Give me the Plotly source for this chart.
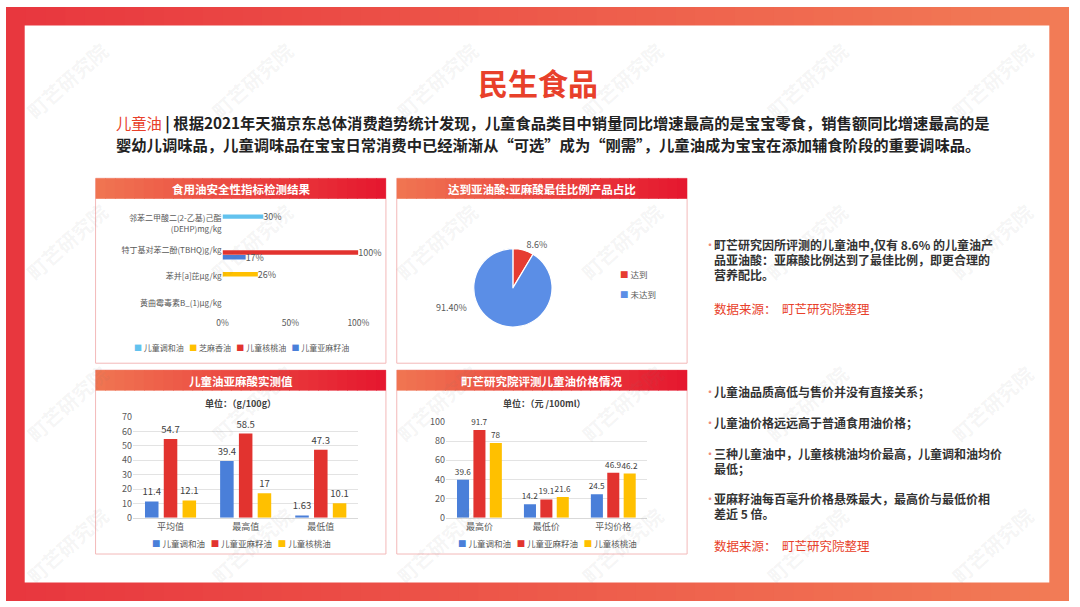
import plotly.graph_objects as go

W, H = 1080, 607
FONT = "Noto Sans CJK SC, Noto Sans, sans-serif"

# ---------------- data ----------------
safety_categories = ["邻苯二甲酸二(2-乙基)己酯<br>(DEHP)mg/kg", "特丁基对苯二酚(TBHQ)g/kg",
                     "苯并[a]芘μg/kg", "黄曲霉毒素B_(1)μg/kg"]
safety_series = ["儿童调和油", "芝麻香油", "儿童核桃油", "儿童亚麻籽油"]
safety_blend = [0.30, None, None, None]
safety_sesame = [None, None, 0.26, None]
safety_walnut = [None, 1.00, None, None]
safety_flax = [None, 0.17, None, None]

pie_labels = ["达到", "未达到"]
pie_values = [8.6, 91.4]
pie_text = ["8.6%", "91.40%"]

oil_series = ["儿童调和油", "儿童亚麻籽油", "儿童核桃油"]
ala_categories = ["平均值", "最高值", "最低值"]
ala_blend = [11.4, 39.4, 1.63]
ala_flax = [54.7, 58.5, 47.3]
ala_walnut = [12.1, 17, 10.1]

price_categories = ["最高价", "最低价", "平均价格"]
price_blend = [39.6, 14.2, 24.5]
price_flax = [91.7, 19.1, 46.9]
price_walnut = [78, 21.6, 46.2]

# ---------------- helpers ----------------
def fx(x):
    return x / W

def fy(y):
    return 1 - y / H

def mix(c1, c2, t):
    return "rgb(%d,%d,%d)" % tuple(round(a + (b - a) * t) for a, b in zip(c1, c2))

BLUE = "#4a7fd9"
RED = "#e2332f"
YELLOW = "#ffc000"
SKY = "#62c2ee"
GRAY = "#595959"
ORANGE_RED = "#e8402a"

fig = go.Figure()

# ---------------- chart 1: horizontal bars ----------------
slot1, w1 = 0.18, 0.17
for i, (name, vals, color) in enumerate(zip(
        safety_series, [safety_blend, safety_sesame, safety_walnut, safety_flax],
        [SKY, YELLOW, RED, BLUE])):
    fig.add_trace(go.Bar(
        name=name, y=safety_categories, x=vals, orientation="h",
        marker=dict(color=color, line=dict(width=0)),
        width=w1, offset=(i - 2) * slot1 + (slot1 - w1) / 2,
        texttemplate="%{x:.0%}", textposition="outside", cliponaxis=False,
        constraintext="none",
        textfont=dict(size=9, color=GRAY, family=FONT),
        xaxis="x", yaxis="y", showlegend=False, hoverinfo="skip"))

# ---------------- chart 2: pie ----------------
fig.add_trace(go.Pie(
    labels=pie_labels, values=pie_values, text=pie_text, texttemplate="%{text}",
    textposition=["outside", "none"], sort=False, direction="clockwise", rotation=0,
    marker=dict(colors=["#e63c31", "#5b8ee6"], line=dict(color="white", width=1.2)),
    outsidetextfont=dict(size=9, color=GRAY, family=FONT),
    domain=dict(x=[fx(475), fx(555)], y=[fy(327), fy(247)]),
    showlegend=False, hoverinfo="skip"))

# ---------------- chart 3 & 4: grouped bars ----------------
def grouped(cats, series_vals, xa, ya, slot, w, fsize):
    for i, (name, vals, color) in enumerate(zip(oil_series, series_vals, [BLUE, RED, YELLOW])):
        fig.add_trace(go.Bar(
            name=name, x=cats, y=vals,
            marker=dict(color=color, line=dict(width=0)),
            width=w, offset=(i - 1.5) * slot + (slot - w) / 2,
            texttemplate="%{y}", textposition="outside", cliponaxis=False,
            constraintext="none",
            textfont=dict(size=fsize, color="#404040", family=FONT),
            xaxis=xa, yaxis=ya, showlegend=False, hoverinfo="skip"))

grouped(ala_categories, [ala_blend, ala_flax, ala_walnut], "x2", "y2", 0.25, 0.18, 9.5)
grouped(price_categories, [price_blend, price_flax, price_walnut], "x3", "y3", 0.245, 0.18, 8.2)

# ---------------- shapes ----------------
shapes = []
c_left, c_right = (232, 54, 62), (242, 124, 86)
n = 54
for k in range(n):
    x0 = k * W / n
    shapes.append(dict(type="rect", xref="paper", yref="paper", layer="below",
                       x0=fx(x0), x1=fx(min(W, x0 + W / n + 1)), y0=0, y1=1,
                       fillcolor=mix(c_left, c_right, (k + 0.5) / n), line=dict(width=0)))
shapes.append(dict(type="rect", xref="paper", yref="paper", layer="below",
                   x0=fx(19), x1=fx(1060), y0=fy(588), y1=fy(19),
                   fillcolor="white", line=dict(width=0)))

panels = [(91, 175, 386, 364), (397, 175, 692, 364), (91, 371, 386, 559), (397, 371, 692, 559)]
h_left, h_right = (240, 118, 82), (229, 22, 46)
for (x0, y0, x1, y1) in panels:
    shapes.append(dict(type="rect", xref="paper", yref="paper", layer="below",
                       x0=fx(x0), x1=fx(x1), y0=fy(y1), y1=fy(y0),
                       fillcolor="white", line=dict(color="#f3b9b9", width=1)))
    m = 30
    step = (x1 - x0) / m
    for k in range(m):
        sx0 = x0 + k * step
        shapes.append(dict(type="rect", xref="paper", yref="paper", layer="below",
                           x0=fx(sx0), x1=fx(min(x1, sx0 + step + 0.8)), y0=fy(y0 + 21), y1=fy(y0),
                           fillcolor=mix(h_left, h_right, (k + 0.5) / m), line=dict(width=0)))

# ---------------- annotations ----------------
ann = []

def text(x, y, s, size=12, color="#333", xanchor="center", yanchor="middle", angle=0, bold=False):
    ann.append(dict(x=fx(x), y=fy(y), xref="paper", yref="paper", showarrow=False,
                    text=("<b>%s</b>" % s) if bold else s, textangle=angle,
                    font=dict(size=size, color=color, family=FONT),
                    xanchor=xanchor, yanchor=yanchor))

# watermarks
for wy in [75, 240, 405, 550]:
    for i in range(6):
        wx = 62 + i * 188
        text(wx, wy, "町芒研究院", size=20, color="rgba(120,120,120,0.08)", angle=-42, bold=True)

# title & intro
text(540, 77, "民生食品", size=30, color=ORANGE_RED, bold=True)
text(110, 118, "<span style='color:%s'>儿童油</span> <b>| 根据2021年天猫京东总体消费趋势统计发现，"
     "儿童食品类目中销量同比增速最高的是宝宝零食，销售额同比增速最高的是</b>" % ORANGE_RED,
     size=15.3, color="#222", xanchor="left")
text(110, 140, "<b>婴幼儿调味品，儿童调味品在宝宝日常消费中已经渐渐从“可选”成为“刚需”，"
     "儿童油成为宝宝在添加辅食阶段的重要调味品。</b>", size=15.3, color="#222", xanchor="left")

# panel titles
titles = ["食用油安全性指标检测结果", "达到亚油酸:亚麻酸最佳比例产品占比", "儿童油亚麻酸实测值", "町芒研究院评测儿童油价格情况"]
for (x0, y0, x1, y1), t in zip(panels, titles):
    text((x0 + x1) / 2, y0 + 11, t, size=11.5, color="white", bold=True)

# unit labels
text(238, 405, "单位：（g/100g）", size=9, color="#404040", bold=True)
text(547, 405, "单位：（元 /100ml）", size=9, color="#404040", bold=True)

# legends (text keys)
def legend_line(names, colors):
    return "   ".join("<span style='color:%s'>■</span> %s" % (c, nm) for nm, c in zip(names, colors))

text(239, 348, legend_line(safety_series, [SKY, YELLOW, RED, BLUE]), size=8, color=GRAY)
text(239, 548, legend_line(oil_series, [BLUE, RED, YELLOW]), size=8.5, color=GRAY)
text(550, 548, legend_line(oil_series, [BLUE, RED, YELLOW]), size=8.5, color=GRAY)
text(622, 273, "<span style='color:#e63c31'>■</span> " + pie_labels[0], size=8.5, color=GRAY, xanchor="left")
text(622, 293, "<span style='color:#5b8ee6'>■</span> " + pie_labels[1], size=8.5, color=GRAY, xanchor="left")

# pie big-slice label
text(453, 307, pie_text[1], size=9, color=GRAY)

# right side notes
BUL = "#f08a7a"
block1 = [(243, "町芒研究因所评测的儿童油中,仅有 8.6% 的儿童油产", True),
          (258, "品亚油酸：亚麻酸比例达到了最佳比例，即更合理的", False),
          (273, "营养配比。", False)]
block2 = [(393, "儿童油品质高低与售价并没有直接关系；", True),
          (425, "儿童油价格远远高于普通食用油价格；", True),
          (456, "三种儿童油中，儿童核桃油均价最高，儿童调和油均价", True),
          (472, "最低；", False),
          (502, "亚麻籽油每百毫升价格悬殊最大，最高价与最低价相", True),
          (518, "差近 5 倍。", False)]
for y, s, bullet in block1 + block2:
    if bullet:
        text(707, y, "•", size=12, color=BUL, xanchor="left")
    text(717, y, s, size=12, color="#333", xanchor="left", bold=True)
text(717, 308, "数据来源：  町芒研究院整理", size=12.5, color=ORANGE_RED, xanchor="left")
text(717, 550, "数据来源：  町芒研究院整理", size=12.5, color=ORANGE_RED, xanchor="left")

# ---------------- layout ----------------
tickf = dict(size=8.5, color=GRAY, family=FONT)
fig.update_layout(
    width=W, height=H, margin=dict(l=0, r=0, t=0, b=0),
    paper_bgcolor="white", plot_bgcolor="rgba(0,0,0,0)",
    barmode="group", font=dict(family=FONT),
    shapes=shapes, annotations=ann,
    xaxis=dict(domain=[fx(220), fx(358)], anchor="y", range=[0, 1],
               tickvals=[0, 0.5, 1], tickformat=".0%", showgrid=False, zeroline=False,
               showline=False, tickfont=tickf, fixedrange=True),
    yaxis=dict(domain=[fy(316), fy(208)], anchor="x", type="category",
               categoryorder="array", categoryarray=safety_categories, autorange="reversed",
               showgrid=False, zeroline=False, showline=False, ticks="",
               tickfont=dict(size=8, color=GRAY, family=FONT), fixedrange=True),
    xaxis2=dict(domain=[fx(129), fx(358)], anchor="y2", showgrid=False, zeroline=False,
                showline=True, linecolor="#d9d9d9", ticks="",
                tickfont=dict(size=9, color=GRAY, family=FONT), fixedrange=True),
    yaxis2=dict(domain=[fy(522), fy(419)], anchor="x2", range=[0, 70], dtick=10,
                showgrid=True, gridcolor="#e3e3e3", zeroline=False, showline=False,
                tickfont=dict(size=9, color=GRAY, family=FONT), fixedrange=True),
    xaxis3=dict(domain=[fx(447), fx(651)], anchor="y3", showgrid=False, zeroline=False,
                showline=True, linecolor="#d9d9d9", ticks="",
                tickfont=dict(size=9, color=GRAY, family=FONT), fixedrange=True),
    yaxis3=dict(domain=[fy(522), fy(424)], anchor="x3", range=[0, 100], dtick=20,
                showgrid=True, gridcolor="#e3e3e3", zeroline=False, showline=False,
                tickfont=dict(size=9, color=GRAY, family=FONT), fixedrange=True),
    showlegend=False,
)

fig.write_html("out.html")
